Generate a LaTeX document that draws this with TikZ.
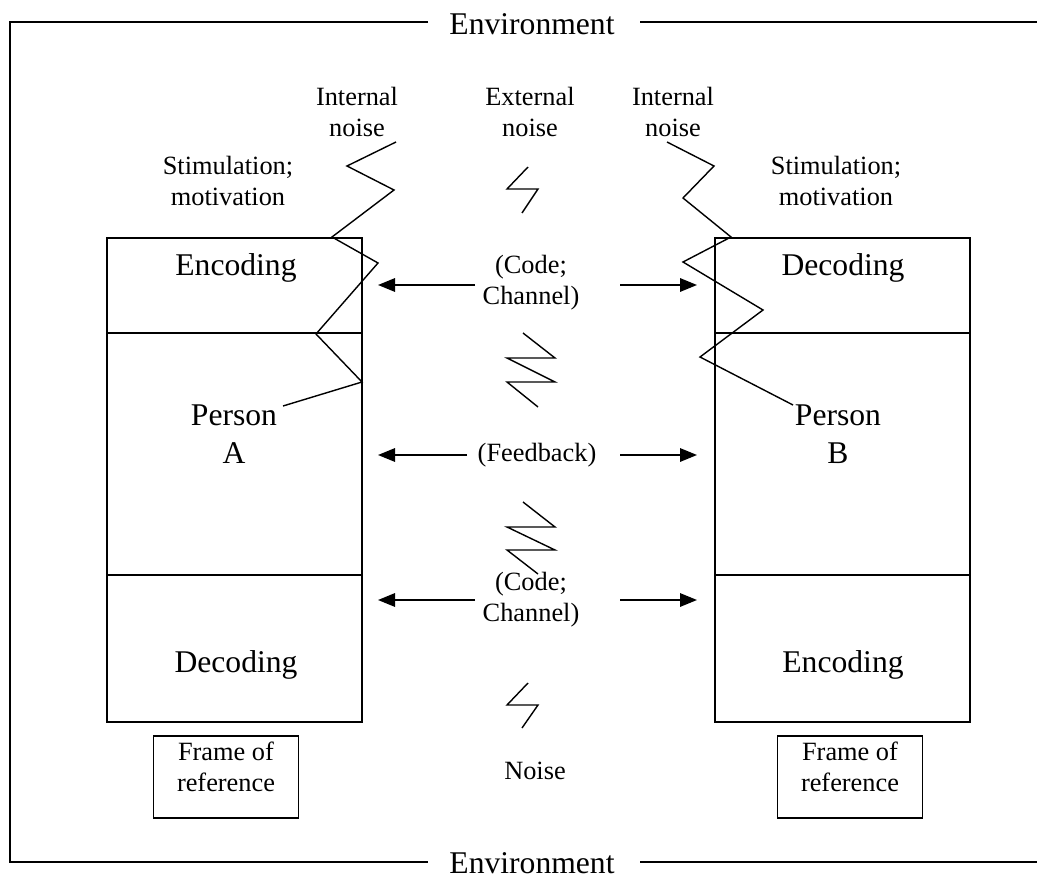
\documentclass[tikz,border=0pt]{standalone}
\usepackage{fontspec}
\setmainfont{Liberation Serif}
\usetikzlibrary{arrows.meta}

\tikzset{
  bigtext/.style={font=\fontsize{18}{21.5}\selectfont, align=center, inner sep=0pt},
  smalltext/.style={font=\fontsize{15}{17.5}\selectfont, align=center, inner sep=0pt},
  personbox/.style={draw, line width=0.9pt, inner sep=0pt, minimum width=5.1cm, minimum height=9.68cm},
  framebox/.style={draw, line width=0.9pt, inner sep=0pt, minimum width=2.9cm, minimum height=1.64cm},
  envline/.style={line width=1.1pt},
  divider/.style={line width=0.9pt},
  msg/.style={-{Triangle[length=0.34cm, width=0.27cm]}, line width=0.9pt},
  zigline/.style={line width=0.8pt, line join=miter},
}

\begin{document}
\begin{tikzpicture}[x=0.02cm, y=-0.02cm]
	\useasboundingbox (0,0) rectangle (1037,878);

	% environment
	\node (envT) [bigtext] at (532,24) {Environment};
	\node (envB) [bigtext] at (532,863) {Environment};
	\coordinate (eTa) at (428,22);
	\coordinate (eTL) at (10,22);
	\coordinate (eBL) at (10,862);
	\coordinate (eBa) at (428,862);
	\coordinate (eTb) at (640,22);
	\coordinate (eTR) at (1037,22);
	\coordinate (eBb) at (640,862);
	\coordinate (eBR) at (1037,862);
	\draw[envline] (eTa) -- (eTL) -- (eBL) -- (eBa);
	\draw[envline] (eTb) -- (eTR);
	\draw[envline] (eBb) -- (eBR);

	% person boxes
	\node (boxA) [personbox] at (234.5,480) {};
	\node (boxB) [personbox] at (842.5,480) {};
	\coordinate (a1l) at (107,333);
	\coordinate (a1r) at (362,333);
	\coordinate (a2l) at (107,575);
	\coordinate (a2r) at (362,575);
	\coordinate (b1l) at (715,333);
	\coordinate (b1r) at (970,333);
	\coordinate (b2l) at (715,575);
	\coordinate (b2r) at (970,575);
	\draw[divider] (a1l) -- (a1r);
	\draw[divider] (a2l) -- (a2r);
	\draw[divider] (b1l) -- (b1r);
	\draw[divider] (b2l) -- (b2r);

	\node (encA) [bigtext] at (236,268) {Encoding};
	\node (perA) [bigtext] at (234,434) {Person\\A};
	\node (decA) [bigtext] at (236,665) {Decoding};
	\node (decB) [bigtext] at (843,268) {Decoding};
	\node (perB) [bigtext] at (838,434) {Person\\B};
	\node (encB) [bigtext] at (843,665) {Encoding};

	% frames of reference
	\node (refA) [framebox] at (226,777) {};
	\node (refB) [framebox] at (850,777) {};
	\node (refAt) [smalltext] at (226,767) {Frame of\\reference};
	\node (refBt) [smalltext] at (850,767) {Frame of\\reference};

	% labels on top
	\node (stimA) [smalltext] at (228,181) {Stimulation;\\motivation};
	\node (stimB) [smalltext] at (836,181) {Stimulation;\\motivation};
	\node (intA) [smalltext] at (357,112) {Internal\\noise};
	\node (intB) [smalltext] at (673,112) {Internal\\noise};
	\node (extN) [smalltext] at (530,112) {External\\noise};

	% messages
	\node (code1) [smalltext] at (531,283) {(Code;\\Channel)};
	\node (fback) [smalltext] at (537,455) {(Feedback)};
	\node (code2) [smalltext] at (531,600) {(Code;\\Channel)};
	\node (noise) [smalltext] at (535,771) {Noise};

	\coordinate (m1a) at (475,285);
	\coordinate (m1A) at (378,285);
	\coordinate (m1b) at (620,285);
	\coordinate (m1B) at (697,285);
	\coordinate (m2a) at (467,455);
	\coordinate (m2A) at (378,455);
	\coordinate (m2b) at (620,455);
	\coordinate (m2B) at (697,455);
	\coordinate (m3a) at (475,600);
	\coordinate (m3A) at (378,600);
	\coordinate (m3b) at (620,600);
	\coordinate (m3B) at (697,600);
	\path[msg]
	(m1a) edge (m1A)
	(m1b) edge (m1B)
	(m2a) edge (m2A)
	(m2b) edge (m2B)
	(m3a) edge (m3A)
	(m3b) edge (m3B);

	% noise zigzags
	\draw[zigline] (396,142) -- (347,166) -- (394,190) -- (332,237) -- (378,263)
	  -- (316,334) -- (362,382) -- (283,406);
	\draw[zigline] (667,142) -- (714,166) -- (683,198) -- (731,237) -- (683,262)
	  -- (763,310) -- (700,357) -- (793,405);
	\draw[zigline] (528,167) -- (507,189) -- (538,189) -- (522,213);
	\draw[zigline] (523,333) -- (555,358) -- (507,358) -- (555,382) -- (507,382) -- (538,407);
	\draw[zigline] (523,502) -- (555,527) -- (507,527) -- (555,550) -- (507,550) -- (538,574);
	\draw[zigline] (528,683) -- (507,705) -- (538,705) -- (522,728);

\end{tikzpicture}
\end{document}
